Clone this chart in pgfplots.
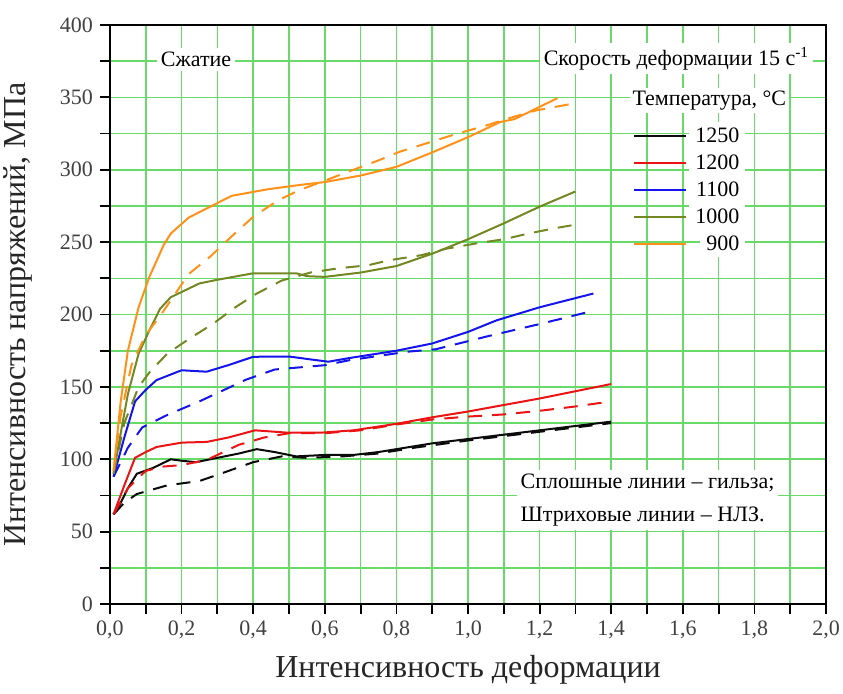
\documentclass[border=0pt]{standalone}
\usepackage{fontspec}
\setmainfont{Liberation Serif}
\usepackage{pgfplots}
\pgfplotsset{compat=1.18}

\definecolor{gridgreen}{RGB}{105,218,105}
\definecolor{c1250}{RGB}{10,10,10}
\definecolor{c1200}{RGB}{235,20,20}
\definecolor{c1100}{RGB}{20,20,235}
\definecolor{c1000}{RGB}{115,135,35}
\definecolor{c900}{RGB}{255,145,25}

\begin{document}
\begin{tikzpicture}
\begin{axis}[
  scale only axis,
  width=358pt, height=289.5pt,
  xmin=0, xmax=2, ymin=0, ymax=400,
  xtick={0,0.2,...,2.01}, ytick={0,50,...,400},
  minor x tick num=1, minor y tick num=1,
  grid=both,
  major grid style={gridgreen, line width=0.8pt},
  minor grid style={gridgreen, line width=0.8pt},
  axis line style={line width=1pt},
  tick style={black, line width=0.9pt},
  major tick length=5pt, minor tick length=5pt,
  tick align=outside,
  xtick pos=bottom, ytick pos=left,
  tick label style={font=\fontsize{11}{13}\selectfont, text=black!75},
  /pgf/number format/assume math mode=true,
  xticklabel style={/pgf/number format/.cd, fixed, fixed zerofill, precision=1, use comma},
  yticklabel style={/pgf/number format/.cd, fixed, precision=0},
  xlabel={Интенсивность деформации},
  ylabel={Интенсивность напряжений, МПа},
  label style={font=\fontsize{16}{19}\selectfont, text=black!85},
  xlabel style={at={(axis description cs:0.5,-0.113)}, anchor=center},
  ylabel style={at={(axis description cs:-0.128,0.5)}, anchor=center},
  legend style={at={(rel axis cs:0.722,0.836)}, anchor=north west,
    draw=none, fill=none, row sep=1.5pt,
    font=\fontsize{11}{13}\selectfont,
    nodes={inner sep=1pt, text height=8pt, text depth=2pt},
    /tikz/every odd column/.append style={column sep=0pt},
    /tikz/every even column/.append style={column sep=0pt}},
  legend cell align=right,
  legend image code/.code={\draw[#1] (0pt,0pt) -- (26pt,0pt);},
  every axis plot/.append style={line width=1pt},
]

% solid lines: sleeve (гильза)
\addplot[c1250] coordinates {(0.01,62)(0.03,70)(0.05,80)(0.075,90)(0.12,94)(0.17,100)(0.2,99)(0.24,98)(0.3,101)(0.36,104)(0.41,107)(0.46,105)(0.52,102)(0.6,103)(0.68,103)(0.75,105)(0.8,107)(0.9,111)(1.0,114)(1.1,117)(1.2,120)(1.3,123)(1.4,126)};
\addlegendentry{\colorbox{white}{1250}}
\addplot[c1200] coordinates {(0.01,62)(0.04,82)(0.07,101)(0.1,105)(0.13,108.5)(0.2,111.5)(0.27,112)(0.33,115)(0.405,120)(0.49,118.5)(0.59,118.4)(0.68,120)(0.8,124.5)(0.9,129)(1.0,133)(1.1,137.5)(1.2,142)(1.3,147)(1.4,152)};
\addlegendentry{\colorbox{white}{1200}}
\addplot[c1100] coordinates {(0.01,88)(0.04,115)(0.07,140)(0.1,148)(0.13,154.7)(0.2,161.5)(0.27,160.5)(0.33,165)(0.4,170.8)(0.5,171)(0.56,169)(0.61,167.4)(0.67,170)(0.8,175)(0.9,180)(1.0,188)(1.08,196)(1.2,205)(1.35,214.5)};
\addlegendentry{\colorbox{white}{1100}}
\addplot[c1000] coordinates {(0.01,90)(0.03,118)(0.05,145)(0.08,173)(0.11,189)(0.14,204)(0.17,212)(0.25,221.5)(0.3,224)(0.4,228.5)(0.52,228.5)(0.55,226.5)(0.6,226)(0.7,229)(0.8,233.5)(0.9,242)(1.0,252)(1.1,263)(1.2,274.5)(1.3,285)};
\addlegendentry{\colorbox{white}{1000}}
\addplot[c900] coordinates {(0.01,92)(0.03,140)(0.05,175)(0.08,205)(0.11,226)(0.15,248)(0.17,256)(0.22,267)(0.3,277)(0.34,282)(0.44,286.5)(0.53,289.5)(0.6,291.5)(0.7,296)(0.8,302)(0.9,312)(1.0,322.5)(1.09,333)(1.13,335)(1.25,349.5)};
\addlegendentry{\colorbox{white}{900}}

% dashed lines: continuously cast billet (НЛЗ)
\addplot[c1250, dash pattern=on 7pt off 5pt, forget plot] coordinates {(0.01,62)(0.04,70)(0.075,76)(0.16,82)(0.25,85)(0.32,91)(0.4,98)(0.48,102)(0.55,101)(0.65,102)(0.75,104)(0.85,108)(1.0,113)(1.1,116)(1.2,119)(1.3,122)(1.4,125)};
\addplot[c1200, dash pattern=on 7pt off 5pt, forget plot] coordinates {(0.01,62)(0.05,80)(0.1,92)(0.15,95)(0.2,96)(0.27,99.5)(0.36,110)(0.43,115)(0.5,118)(0.6,118)(0.7,120)(0.8,124)(0.9,127.5)(1.0,129.5)(1.1,131)(1.2,133.5)(1.3,136.5)(1.4,140)};
\addplot[c1100, dash pattern=on 7pt off 5pt, forget plot] coordinates {(0.01,88)(0.05,108)(0.09,122)(0.16,130.6)(0.25,140)(0.38,155)(0.46,162)(0.6,165)(0.67,168.5)(0.83,174.3)(0.91,176)(1.05,184.7)(1.21,194)(1.35,202.6)};
\addplot[c1000, dash pattern=on 7pt off 5pt, forget plot] coordinates {(0.01,90)(0.04,125)(0.08,150)(0.11,160)(0.16,173)(0.22,183)(0.29,194)(0.35,205)(0.41,214.5)(0.48,223.5)(0.56,229)(0.64,232)(0.72,234)(0.78,237.5)(0.87,241)(0.94,245.5)(1.02,249)(1.1,252)(1.17,256)(1.24,259.5)(1.31,262.5)};
\addplot[c900, dash pattern=on 7pt off 5pt, forget plot] coordinates {(0.01,92)(0.03,130)(0.06,165)(0.1,186)(0.14,199)(0.22,228)(0.28,240)(0.34,254)(0.4,267.5)(0.47,279)(0.53,286)(0.6,292.5)(0.68,300)(0.75,306.5)(0.81,312.5)(0.9,319.5)(0.97,325)(1.05,330.5)(1.12,336)(1.19,341)(1.3,346)};

% annotations
\node[anchor=west, fill=white, inner sep=2pt, font=\fontsize{11}{13}\selectfont]
  at (axis cs:0.13,376) {Сжатие};
\node[anchor=east, fill=white, inner sep=2pt, font=\fontsize{11}{13}\selectfont]
  at (axis cs:1.965,377) {Скорость деформации 15 с\textsuperscript{-1}};
\node[anchor=west, fill=white, inner sep=1.5pt, font=\fontsize{11}{13}\selectfont]
  at (axis cs:1.45,348) {Температура, °C};
\node[anchor=west, fill=white, inner sep=2pt, align=left, font=\fontsize{11}{16.5}\selectfont]
  at (axis cs:1.135,72) {Сплошные линии – гильза;\\Штриховые линии – НЛЗ.};

\coordinate (bbSW) at (rel axis cs:-0.1536,-0.1537);
\coordinate (bbNE) at (rel axis cs:1.0237,1.0432);
\end{axis}
\pgfresetboundingbox
\path[use as bounding box] (bbSW) rectangle (bbNE);
\end{tikzpicture}
\end{document}
